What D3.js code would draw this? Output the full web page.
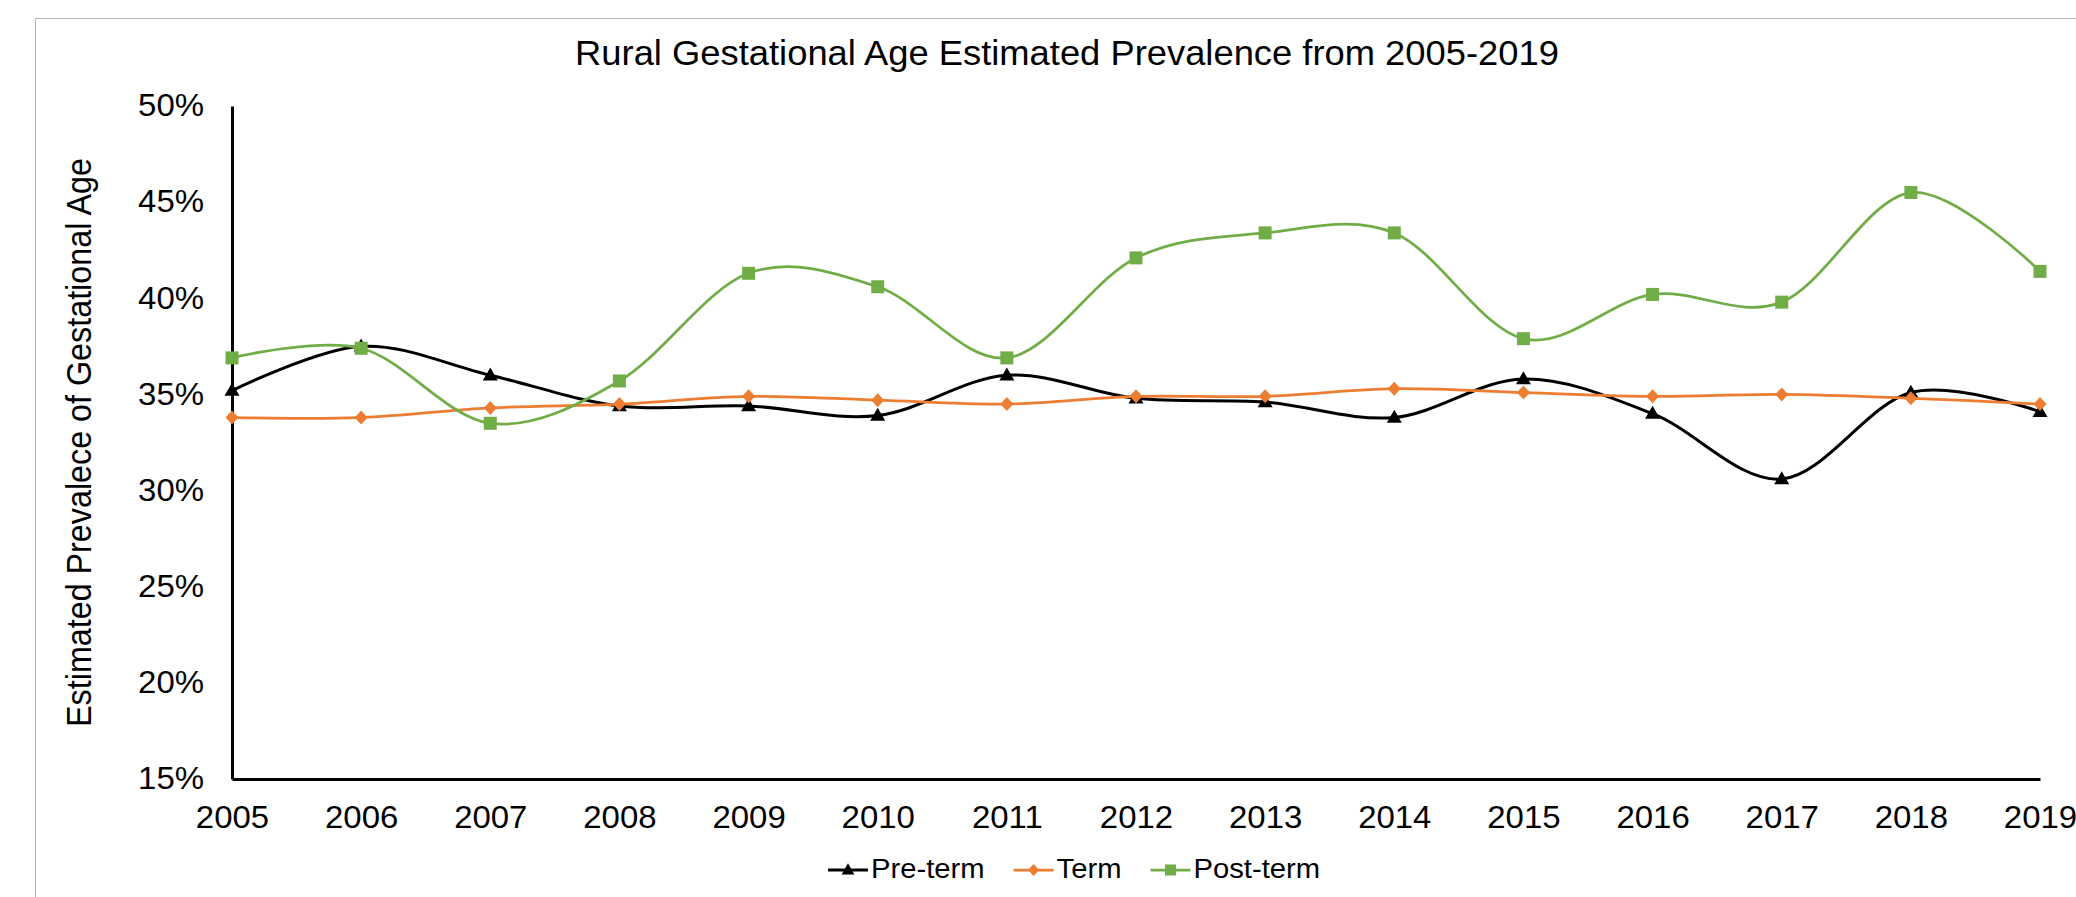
<!DOCTYPE html>
<html>
<head>
<meta charset="utf-8">
<script src="https://cdn.jsdelivr.net/npm/d3@7"></script>
<style>
  html, body { margin: 0; padding: 0; background: #ffffff; }
  svg { display: block; font-family: "Liberation Sans", Arial, sans-serif; }
</style>
</head>
<body>
<svg id="chart" width="2076" height="897"></svg>
<script>
// Years on the horizontal axis
const years = [2005, 2006, 2007, 2008, 2009, 2010, 2011, 2012, 2013, 2014, 2015, 2016, 2017, 2018, 2019];

// Estimated prevalence (%) by gestational-age group
const preTerm  = [35.2, 37.5, 36.0, 34.4, 34.4, 33.9, 36.0, 34.8, 34.6, 33.8, 35.8, 34.0, 30.6, 35.1, 34.1];
const term     = [33.8, 33.8, 34.3, 34.5, 34.9, 34.7, 34.5, 34.9, 34.9, 35.3, 35.1, 34.9, 35.0, 34.8, 34.5];
const postTerm = [36.9, 37.4, 33.5, 35.7, 41.3, 40.6, 36.9, 42.1, 43.4, 43.4, 37.9, 40.2, 39.8, 45.5, 41.4];

// Vertical axis ticks (%)
const yTicks = [15, 20, 25, 30, 35, 40, 45, 50];

const seriesNames = ["Pre-term", "Term", "Post-term"];
const seriesColors = ["#000000", "#ED7D31", "#70AD47"];
const seriesMarkers = ["triangle", "diamond", "square"];
const seriesWidths = [3, 2.75, 2.75];
const seriesValues = [preTerm, term, postTerm];

const titleText = "Rural Gestational Age Estimated Prevalence from 2005-2019";
const yTitleText = "Estimated Prevalece of Gestational Age";

const svg = d3.select("#chart");

// Outer chart frame
svg.append("rect")
  .attr("x", 35.5).attr("y", 18.5)
  .attr("width", 2100).attr("height", 950)
  .attr("fill", "none")
  .attr("stroke", "#b4b4b4")
  .attr("stroke-width", 1);

const plot = { left: 232, right: 2040, top: 106, bottom: 779 };

const x = d3.scalePoint()
  .domain(years)
  .range([plot.left, plot.right]);

const y = d3.scaleLinear()
  .domain([15, 50])
  .range([plot.bottom, plot.top]);

// Title
svg.append("text")
  .attr("transform", `translate(1067,65) scale(1.06,1)`)
  .attr("text-anchor", "middle")
  .attr("font-size", 34.3)
  .attr("fill", "#000")
  .text(titleText);

// Y axis title
svg.append("text")
  .attr("transform", `translate(91,${(plot.top + plot.bottom) / 2}) scale(1.1,1) rotate(-90)`)
  .attr("text-anchor", "middle")
  .attr("font-size", 32.3)
  .attr("fill", "#000")
  .text(yTitleText);

// Y axis
const yAxis = svg.append("g")
  .attr("transform", `translate(${plot.left},0)`)
  .call(d3.axisLeft(y).tickValues(yTicks).tickSize(0).tickFormat(d => d + "%"));
yAxis.select(".domain").attr("stroke", "#000").attr("stroke-width", 3);
yAxis.selectAll(".tick text")
  .attr("x", 0)
  .attr("dy", "0.32em")
  .attr("transform", "translate(-28,0) scale(1.08,1)")
  .attr("font-size", 30.5)
  .attr("font-family", "Liberation Sans, Arial, sans-serif")
  .attr("fill", "#000");

// X axis
const xAxis = svg.append("g")
  .attr("transform", `translate(0,${plot.bottom})`)
  .call(d3.axisBottom(x).tickSize(0).tickFormat(d => String(d)));
xAxis.select(".domain").attr("stroke", "#000").attr("stroke-width", 3);
xAxis.selectAll(".tick text")
  .attr("y", 0)
  .attr("dy", 0)
  .attr("transform", "translate(0,49) scale(1.08,1)")
  .attr("font-size", 30.5)
  .attr("font-family", "Liberation Sans, Arial, sans-serif")
  .attr("fill", "#000");

// Marker shapes
function markerPath(kind, s) {
  if (kind === "triangle") {
    const w = 15 * s, h = 13 * s;
    return `M0,${-h * 0.6}L${w / 2},${h * 0.4}L${-w / 2},${h * 0.4}Z`;
  }
  if (kind === "diamond") {
    const w = 13 * s, h = 14 * s;
    return `M0,${-h / 2}L${w / 2},0L0,${h / 2}L${-w / 2},0Z`;
  }
  const a = 13 * s;
  return `M${-a / 2},${-a / 2}h${a}v${a}h${-a}Z`;
}

const line = d3.line()
  .x((d, i) => x(years[i]))
  .y(d => y(d))
  .curve(d3.curveCatmullRom.alpha(0));

seriesValues.forEach((vals, k) => {
  const g = svg.append("g").attr("class", "series");
  g.append("path")
    .datum(vals)
    .attr("d", line)
    .attr("fill", "none")
    .attr("stroke", seriesColors[k])
    .attr("stroke-width", seriesWidths[k])
    .attr("stroke-linejoin", "round");
  g.selectAll("path.marker")
    .data(vals)
    .join("path")
    .attr("class", "marker")
    .attr("transform", (d, i) => `translate(${x(years[i])},${y(d)})`)
    .attr("d", markerPath(seriesMarkers[k], 1))
    .attr("fill", seriesColors[k]);
});

// Legend
const legend = svg.append("g").attr("transform", "translate(0,870)");
let cursor = 828;
seriesNames.forEach((name, k) => {
  const item = legend.append("g").attr("transform", `translate(${cursor},0)`);
  item.append("line")
    .attr("x1", 0).attr("x2", 40)
    .attr("y1", 0).attr("y2", 0)
    .attr("stroke", seriesColors[k])
    .attr("stroke-width", seriesWidths[k]);
  item.append("path")
    .attr("transform", "translate(20,0)")
    .attr("d", markerPath(seriesMarkers[k], 0.85))
    .attr("fill", seriesColors[k]);
  const t = item.append("text")
    .attr("transform", "translate(43,7.5) scale(1.07,1)")
    .attr("font-size", 27.3)
    .attr("fill", "#000")
    .text(name);
  const w = t.node().getComputedTextLength() * 1.07;
  cursor += 43 + w + 29;
});
</script>
</body>
</html>
